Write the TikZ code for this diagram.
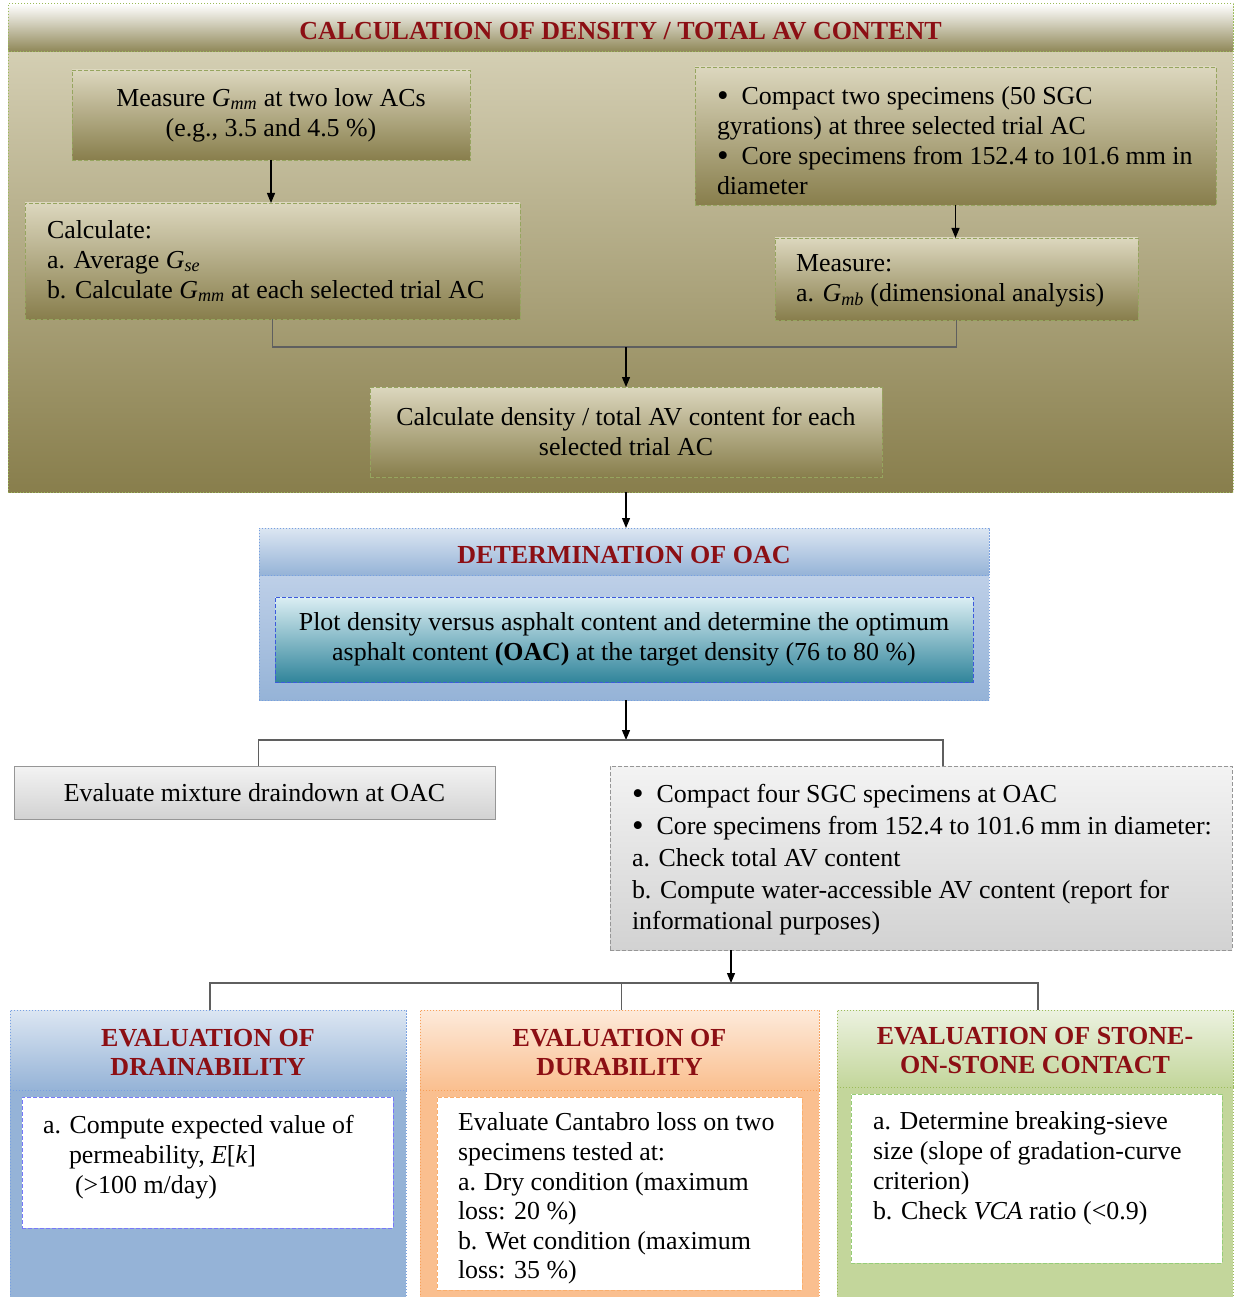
\documentclass[tikz,border=0pt]{standalone}
\usepackage{fontspec}
\setmainfont{Liberation Serif}
\usetikzlibrary{arrows.meta,shadings}
\definecolor{ttlred}{RGB}{140,15,20}
\definecolor{olvTop}{RGB}{220,215,190}
\definecolor{olvBot}{RGB}{136,126,76}
\definecolor{olvBand}{RGB}{142,134,86}
\definecolor{olvLine}{RGB}{150,165,95}
\definecolor{pnlLine}{RGB}{155,187,89}
\definecolor{bluTop}{RGB}{220,230,242}
\definecolor{bluBot}{RGB}{149,179,215}
\definecolor{bluBody}{RGB}{205,218,238}
\definecolor{bluLine}{RGB}{120,160,225}
\definecolor{tealTop}{RGB}{219,238,243}
\definecolor{tealBot}{RGB}{49,133,155}
\definecolor{tealLine}{RGB}{60,90,220}
\definecolor{gryTop}{RGB}{243,243,243}
\definecolor{gryBot}{RGB}{210,210,210}
\definecolor{gryLine}{RGB}{150,150,150}
\definecolor{orgTop}{RGB}{253,234,218}
\definecolor{orgBot}{RGB}{250,191,143}
\definecolor{orgLine}{RGB}{247,160,90}
\definecolor{grnTop}{RGB}{236,242,224}
\definecolor{grnBot}{RGB}{195,214,155}
\definecolor{grnLine}{RGB}{155,187,89}
\definecolor{wBlue}{RGB}{120,120,250}
\definecolor{wOrg}{RGB}{250,175,110}
\definecolor{wGrn}{RGB}{150,205,120}
\definecolor{connGray}{RGB}{95,95,95}
\newcommand{\ivar}[2]{\textit{#1}\textsubscript{\textit{#2}}}
\newcommand{\blt}{\raisebox{-1.5pt}{\fontsize{33}{30}\selectfont\textbullet}}
\begin{document}
\begin{tikzpicture}[x=1pt,y=-1pt,
  font=\fontsize{25.9}{30}\selectfont,
  every node/.style={inner sep=0pt, outer sep=0pt},
  panel/.style={anchor=north west, dotted, line width=1pt},
  band/.style={anchor=north west, dotted, line width=1pt},
  ttl/.style={align=center, font=\fontsize{26}{29}\selectfont\bfseries, text=ttlred},
  olbox/.style={anchor=north west, draw=olvLine, dash pattern=on 4pt off 2pt,
    line width=0.8pt, top color=olvTop, bottom color=olvBot},
  whitebox/.style={anchor=north west, dash pattern=on 4pt off 2pt,
    line width=0.9pt, fill=white},
  txtl/.style={align=left, anchor=west},
  txtn/.style={align=left, anchor=north west},
  conn/.style={draw=connGray, line width=1.2pt},
  arr/.style={draw=black, line width=1.2pt, -{Triangle[length=10pt,width=8pt]}},
]
\useasboundingbox (0,0) rectangle (1233,1297);

% ---------- top panel ----------
\node[panel, draw=pnlLine, top color=olvTop, bottom color=olvBot,
  minimum width=1225pt, minimum height=488pt] (p1) at (8,4) {};
\node[band, draw=pnlLine, top color=white, bottom color=olvBand,
  minimum width=1225pt, minimum height=48pt] (p1t) at (8,4) {};
\node[ttl] (p1l) at ([yshift=-3pt]p1t.center) {CALCULATION OF DENSITY / TOTAL AV CONTENT};

\node[olbox, minimum width=398pt, minimum height=90pt, align=center] (b1) at (72,70)
  {Measure \ivar{G}{mm} at two low ACs\\(e.g., 3.5 and 4.5 \%)};
\node[olbox, minimum width=495pt, minimum height=116pt] (b2) at (25,203) {};
\node[txtl] (b2t) at ([xshift=22pt]b2.west)
  {Calculate:\\a. Average \ivar{G}{se}\\b. Calculate \ivar{G}{mm} at each selected trial AC};
\node[olbox, minimum width=521pt, minimum height=138pt] (b3) at (695,67) {};
\node[txtl] (b3t) at ([xshift=22pt,yshift=-5pt]b3.west)
  {\blt\hspace{13pt}Compact two specimens (50 SGC\\gyrations) at three selected trial AC\\\blt\hspace{13pt}Core specimens from 152.4 to 101.6 mm in\\diameter};
\node[olbox, minimum width=363pt, minimum height=82pt] (b4) at (775,238) {};
\node[txtl] (b4t) at ([xshift=21pt,yshift=-2pt]b4.west)
  {Measure:\\a. \ivar{G}{mb} (dimensional analysis)};
\node[olbox, minimum width=512pt, minimum height=90pt, align=center] (b5) at (370,387)
  {Calculate density / total AV content for each\\selected trial AC};

\draw[arr] (b1.south) -- (b1.south |- b2.north);
\draw[arr] (b3.south) -- (b3.south |- b4.north);
\coordinate (j1) at (626,347);
\draw[conn] (b2.south) |- (j1) -| (b4.south);
\draw[arr] (j1) -- (j1 |- b5.north);

% ---------- OAC panel ----------
\node[panel, draw=bluLine, top color=bluBody, bottom color=bluBot,
  minimum width=730pt, minimum height=172pt] (p2) at (259,528) {};
\node[band, draw=bluLine, top color=bluTop, bottom color=bluBot,
  minimum width=730pt, minimum height=47pt] (p2t) at (259,528) {};
\node[ttl] (p2l) at ([yshift=-4pt]p2t.center) {DETERMINATION OF OAC};
\node[anchor=north west, draw=tealLine, dash pattern=on 4pt off 2pt, line width=0.8pt,
  top color=tealTop, bottom color=tealBot, minimum width=698pt, minimum height=85pt,
  align=center] (o1) at (275,597)
  {Plot density versus asphalt content and determine the optimum\\asphalt content \textbf{(OAC)} at the target density (76 to 80 \%)};

\draw[arr] (b5.south |- p1.south) -- (b5.south |- p2.north);

% ---------- middle row ----------
\node[anchor=north west, draw=gryLine, line width=0.8pt, top color=gryTop, bottom color=gryBot,
  minimum width=481pt, minimum height=53pt] (d1) at (14,766) {Evaluate mixture draindown at OAC};
\node[anchor=north west, draw=gryLine, dash pattern=on 4pt off 2pt, line width=0.8pt,
  top color=gryTop, bottom color=gryBot, minimum width=622pt, minimum height=184pt] (c1) at (610,766) {};
\node[txtl, font=\fontsize{25.9}{31.7}\selectfont] (c1t) at ([xshift=22pt,yshift=-2pt]c1.west)
  {\blt\hspace{13pt}Compact four SGC specimens at OAC\\\blt\hspace{13pt}Core specimens from 152.4 to 101.6 mm in diameter:\\a. Check total AV content\\b. Compute water-accessible AV content (report for\\informational purposes)};

\coordinate (s2) at (626,740);
\draw[arr] (s2 |- p2.south) -- (s2);
\draw[conn] ([xshift=4pt]d1.north) |- (s2) -| ([xshift=22pt]c1.north);

% ---------- bottom row ----------
\node[panel, draw=bluLine, fill=bluBot, minimum width=396pt, minimum height=295pt] (e1) at (10,1010) {};
\node[band, draw=bluLine, top color=bluTop, bottom color=bluBot,
  minimum width=396pt, minimum height=80pt] (e1t) at (10,1010) {};
\node[ttl] (e1l) at ([yshift=-2pt]e1t.center) {EVALUATION OF\\DRAINABILITY};
\node[whitebox, draw=wBlue, minimum width=371pt, minimum height=131pt] (w1) at (22,1097) {};
\node[txtn] (w1t) at ([xshift=21pt,yshift=-18pt]w1.north west)
  {a. Compute expected value of\\\hspace*{26pt}permeability, \textit{E}[\textit{k}]\\\hspace*{32pt}(>100 m/day)};

\node[panel, draw=orgLine, fill=orgBot, minimum width=399pt, minimum height=295pt] (e2) at (420,1010) {};
\node[band, draw=orgLine, top color=orgTop, bottom color=orgBot,
  minimum width=399pt, minimum height=80pt] (e2t) at (420,1010) {};
\node[ttl] (e2l) at ([yshift=-2pt]e2t.center) {EVALUATION OF\\DURABILITY};
\node[whitebox, draw=wOrg, minimum width=365pt, minimum height=193pt] (w2) at (437,1097) {};
\node[txtn, font=\fontsize{25.9}{29.6}\selectfont] (w2t) at ([xshift=21pt,yshift=-16pt]w2.north west)
  {Evaluate Cantabro loss on two\\specimens tested at:\\a.\hspace{8pt}Dry condition (maximum\\loss: 20 \%)\\b.\hspace{8pt}Wet condition (maximum\\loss: 35 \%)};

\node[panel, draw=grnLine, fill=grnBot, minimum width=396pt, minimum height=295pt] (e3) at (837,1010) {};
\node[band, draw=grnLine, top color=grnTop, bottom color=grnBot,
  minimum width=396pt, minimum height=77pt] (e3t) at (837,1010) {};
\node[ttl] (e3l) at ([yshift=-2pt]e3t.center) {EVALUATION OF STONE-\\ON-STONE CONTACT};
\node[whitebox, draw=wGrn, minimum width=371pt, minimum height=169pt] (w3) at (851,1094) {};
\node[txtn] (w3t) at ([xshift=22pt,yshift=-18pt]w3.north west)
  {a. Determine breaking-sieve\\size (slope of gradation-curve\\criterion)\\b. Check \textit{VCA} ratio (<0.9)};

\coordinate (s3) at (731,983);
\draw[arr] (s3 |- c1.south) -- (s3);
\draw[conn] ([xshift=2pt]e1.north) |- (s3) -| ([xshift=3pt]e3.north);
\draw[conn] ([xshift=2pt]e2.north) -- ([xshift=2pt]e2.north |- s3);
\end{tikzpicture}
\end{document}
